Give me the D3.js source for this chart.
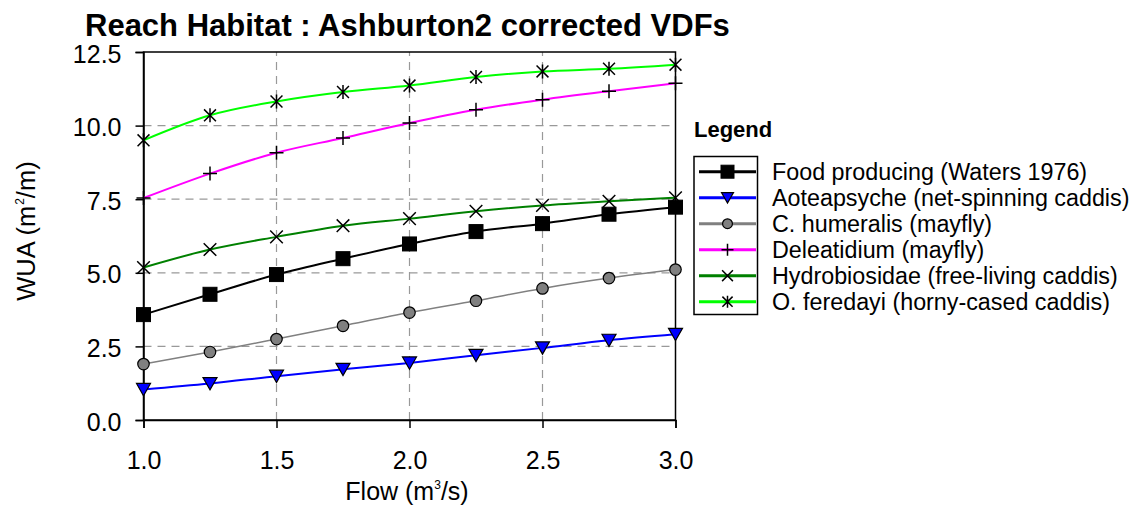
<!DOCTYPE html>
<html><head><meta charset="utf-8">
<script src="https://cdn.jsdelivr.net/npm/d3@7"></script>
<style>body{margin:0;background:#fff;} svg{display:block;font-family:"Liberation Sans",Arial,sans-serif;}</style>
</head><body>
<svg id="chart" width="1131" height="522"></svg>
<script>
const flows = [1.0, 1.25, 1.5, 1.75, 2.0, 2.25, 2.5, 2.75, 3.0];
const foodProducing = [3.58, 4.27, 4.94, 5.48, 5.98, 6.40, 6.67, 6.99, 7.23];
const aoteapsyche = [1.04, 1.24, 1.49, 1.72, 1.94, 2.20, 2.45, 2.71, 2.91];
const cHumeralis = [1.90, 2.31, 2.75, 3.20, 3.65, 4.05, 4.47, 4.82, 5.11];
const deleatidium = [7.54, 8.37, 9.08, 9.58, 10.09, 10.54, 10.88, 11.17, 11.44];
const hydrobiosidae = [5.18, 5.79, 6.22, 6.60, 6.84, 7.09, 7.29, 7.43, 7.55];
const oFeredayi = [9.50, 10.35, 10.82, 11.14, 11.36, 11.65, 11.84, 11.93, 12.07];
const seriesNames = ["Food producing (Waters 1976)", "Aoteapsyche (net-spinning caddis)", "C. humeralis (mayfly)", "Deleatidium (mayfly)", "Hydrobiosidae (free-living caddis)", "O. feredayi (horny-cased caddis)"];
const xTicks = [1.0, 1.5, 2.0, 2.5, 3.0];
const yTicks = [0, 2.5, 5.0, 7.5, 10.0, 12.5];

const seriesValues = [foodProducing, aoteapsyche, cHumeralis, deleatidium, hydrobiosidae, oFeredayi];
const styles = [
  {color:"#000000", marker:"square", w:2},
  {color:"#0000ff", marker:"triangle", w:2},
  {color:"#808080", marker:"circle", w:1.5},
  {color:"#ff00ff", marker:"plus", w:2},
  {color:"#008000", marker:"cross", w:2},
  {color:"#00ff00", marker:"asterisk", w:2}
];

const svg = d3.select("#chart");
const x = d3.scaleLinear().domain([1, 3]).range([143.5, 675.5]);
const y = d3.scaleLinear().domain([0, 12.5]).range([420, 52]);

// gridlines
const grid = svg.append("g");
grid.selectAll("line.gx").data(xTicks.slice(1, -1)).join("line")
  .attr("x1", d => x(d)).attr("x2", d => x(d)).attr("y1", y(0)).attr("y2", y(12.5))
  .attr("stroke", "#999").attr("stroke-width", 1.2).attr("stroke-dasharray", "8,6");
grid.selectAll("line.gy").data(yTicks.slice(1, -1)).join("line")
  .attr("y1", d => y(d)).attr("y2", d => y(d)).attr("x1", x(1)).attr("x2", x(3))
  .attr("stroke", "#999").attr("stroke-width", 1.2).attr("stroke-dasharray", "8,6");

// frame
svg.append("rect").attr("x", x(1)).attr("y", y(12.5)).attr("width", x(3) - x(1)).attr("height", y(0) - y(12.5))
  .attr("fill", "none").attr("stroke", "#000").attr("stroke-width", 1.5);

// axes
const xAxis = d3.axisBottom(x).tickValues(xTicks).tickFormat(d3.format(".1f")).tickSize(8).tickPadding(23);
const gx = svg.append("g").attr("transform", `translate(0,${y(0)})`).call(xAxis);
const yAxis = d3.axisLeft(y).tickValues(yTicks).tickFormat(d3.format(".1f")).tickSize(8).tickPadding(14);
const gy = svg.append("g").attr("transform", `translate(${x(1)},0)`).call(yAxis);
[gx, gy].forEach(g => {
  g.select(".domain").attr("stroke", "#000").attr("stroke-width", 1.5);
  g.selectAll(".tick line").attr("stroke", "#000").attr("stroke-width", 1.5);
  g.selectAll(".tick text").attr("font-size", 25).attr("fill", "#000").attr("font-family", "Liberation Sans, Arial, sans-serif");
});
gy.selectAll(".tick text").attr("dy", "0.4em");

// markers
function drawMarker(g, type, cx, cy, s, color) {
  const h = s / 2;
  if (type === "square") {
    g.append("rect").attr("x", cx - h).attr("y", cy - h).attr("width", s).attr("height", s).attr("fill", "#000").attr("stroke", "#000").attr("stroke-width", 1);
  } else if (type === "triangle") {
    g.append("path").attr("d", `M${cx - h},${cy - h * 0.85}L${cx + h},${cy - h * 0.85}L${cx},${cy + h * 0.9}Z`).attr("fill", "#0000ff").attr("stroke", "#000").attr("stroke-width", 1.2);
  } else if (type === "circle") {
    g.append("circle").attr("cx", cx).attr("cy", cy).attr("r", h * 0.82).attr("fill", "#808080").attr("stroke", "#000").attr("stroke-width", 1.2);
  } else if (type === "plus") {
    g.append("path").attr("d", `M${cx - h},${cy}L${cx + h},${cy}M${cx},${cy - h}L${cx},${cy + h}`).attr("stroke", "#000").attr("stroke-width", 1.5);
  } else if (type === "cross") {
    const k = h * 0.9;
    g.append("path").attr("d", `M${cx - k},${cy - k}L${cx + k},${cy + k}M${cx - k},${cy + k}L${cx + k},${cy - k}`).attr("stroke", "#000").attr("stroke-width", 1.5);
  } else if (type === "asterisk") {
    const k = h * 0.85;
    g.append("path").attr("d", `M${cx - k},${cy - k}L${cx + k},${cy + k}M${cx - k},${cy + k}L${cx + k},${cy - k}M${cx},${cy - h}L${cx},${cy + h}`).attr("stroke", "#000").attr("stroke-width", 1.5);
  }
}

const line = d3.line().x((d, i) => x(flows[i])).y(d => y(d)).curve(d3.curveMonotoneX);
const plot = svg.append("g");
seriesValues.forEach((vals, si) => {
  const st = styles[si];
  plot.append("path").attr("d", line(vals)).attr("fill", "none").attr("stroke", st.color).attr("stroke-width", st.w);
});
seriesValues.forEach((vals, si) => {
  const st = styles[si];
  const mg = plot.append("g");
  vals.forEach((v, i) => drawMarker(mg, st.marker, x(flows[i]), y(v), 14, st.color));
});

// title
svg.append("text").attr("x", 85).attr("y", 36).attr("font-size", 31).attr("font-weight", "bold")
  .text("Reach Habitat : Ashburton2 corrected VDFs");

// axis titles
const yl = svg.append("text").attr("transform", "translate(35,231) rotate(-90)").attr("text-anchor", "middle").attr("font-size", 25.5);
yl.append("tspan").text("WUA (m");
yl.append("tspan").attr("font-size", 12).attr("dy", -11).attr("dx", 1).text("2");
yl.append("tspan").attr("dy", 11).text("/m)");

const xl = svg.append("text").attr("x", 407).attr("y", 500).attr("text-anchor", "middle").attr("font-size", 25);
xl.append("tspan").text("Flow (m");
xl.append("tspan").attr("font-size", 12).attr("dy", -11).text("3");
xl.append("tspan").attr("dy", 11).text("/s)");

// legend
svg.append("text").attr("x", 694).attr("y", 137).attr("font-size", 22).attr("font-weight", "bold").text("Legend");
svg.append("rect").attr("x", 694).attr("y", 156.5).attr("width", 63.5).attr("height", 158)
  .attr("fill", "none").attr("stroke", "#000").attr("stroke-width", 1.5);
const lg = svg.append("g");
seriesNames.forEach((name, i) => {
  const cy = 171.7 + i * 26;
  const st = styles[i];
  lg.append("line").attr("x1", 699).attr("x2", 756).attr("y1", cy).attr("y2", cy).attr("stroke", st.color).attr("stroke-width", 3);
  drawMarker(lg, st.marker, 727.5, cy, st.marker === "square" ? 13 : 12, st.color);
  lg.append("text").attr("x", 772).attr("y", cy).attr("dy", "0.36em").attr("font-size", 23.3).text(name);
});
</script>
</body></html>
